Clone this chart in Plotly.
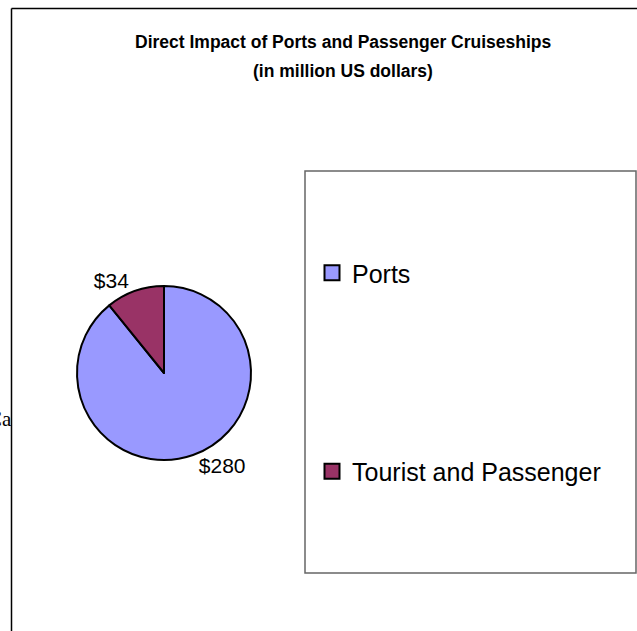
import plotly.graph_objects as go

# ---- data ----
categories = ["Ports", "Tourist and Passenger"]
values = [280, 34]
colors = ["#9999FF", "#993366"]
title_lines = ["Direct Impact of Ports and Passenger Cruiseships", "(in million US dollars)"]

W, H = 637, 631

fig = go.Figure()

# pie (center ~ (164,373), radius ~87 px)
cx, cy, r = 164, 373, 87
label_font = dict(family="Liberation Sans, Arial", size=21, color="black")
fig.add_trace(go.Pie(
    labels=categories,
    values=values,
    sort=False,
    direction="clockwise",
    rotation=0,
    marker=dict(colors=colors, line=dict(color="black", width=2)),
    texttemplate="$%{value}",
    textposition="outside",
    textfont=label_font,
    outsidetextfont=label_font,
    showlegend=False,
    hoverinfo="label+value",
    domain=dict(x=[(cx - r) / W, (cx + r) / W], y=[1 - (cy + r) / H, 1 - (cy - r) / H]),
))

# legend entries (one per category, so items can be spaced apart)
for i, (cat, col) in enumerate(zip(categories, colors)):
    fig.add_trace(go.Scatter(
        x=[None], y=[None], mode="markers", name=cat,
        legendgroup=f"g{i}",
        marker=dict(symbol="square", size=15, color=col, line=dict(color="black", width=2)),
    ))

title_y = [42, 71]
annotations = [
    dict(text="<b>" + t + "</b>", xref="paper", yref="paper", x=343 / W, y=1 - yy / H,
         xanchor="center", yanchor="middle", showarrow=False,
         font=dict(family="Liberation Sans, Arial", size=17.5, color="black"))
    for t, yy in zip(title_lines, title_y)
]
annotations.append(
    dict(text="Ca", xref="paper", yref="paper", x=13.5 / W, y=1 - 419 / H,
         xanchor="right", yanchor="middle", showarrow=False,
         font=dict(family="Liberation Serif, Times New Roman", size=21, color="black"))
)

fig.update_layout(
    width=W, height=H,
    margin=dict(l=0, r=0, t=0, b=0),
    paper_bgcolor="white",
    plot_bgcolor="white",
    xaxis=dict(visible=False),
    yaxis=dict(visible=False),
    legend=dict(
        x=312 / W, xanchor="left",
        y=1 - 250 / H, yanchor="top",
        bgcolor="rgba(0,0,0,0)",
        borderwidth=0,
        font=dict(family="Liberation Sans, Arial", size=25, color="black"),
        tracegroupgap=163,
    ),
    shapes=[
        # outer chart frame (top and left edges visible)
        dict(type="line", xref="paper", yref="paper", x0=11.5 / W, x1=1.05, y0=1 - 8.5 / H, y1=1 - 8.5 / H,
             line=dict(color="black", width=1.5)),
        dict(type="line", xref="paper", yref="paper", x0=11.5 / W, x1=11.5 / W, y0=1 - 8.5 / H, y1=-0.05,
             line=dict(color="black", width=1.5)),
        # legend box
        dict(type="rect", xref="paper", yref="paper", x0=305 / W, x1=636 / W, y0=1 - 573 / H, y1=1 - 171 / H,
             line=dict(color="#666666", width=1.5), fillcolor="rgba(0,0,0,0)"),
    ],
    annotations=annotations,
)

fig.write_html("out.html")
